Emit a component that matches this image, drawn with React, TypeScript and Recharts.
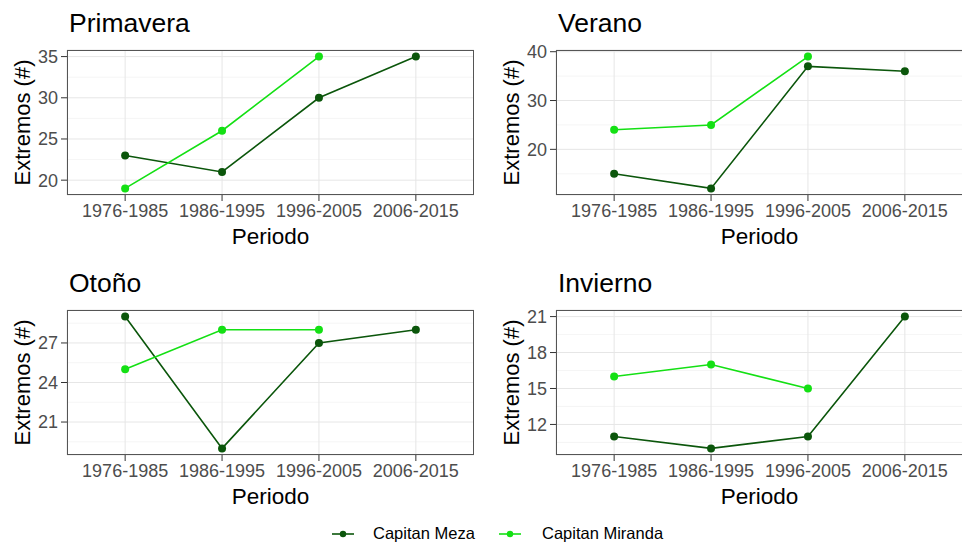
import { LineChart, Line, XAxis, YAxis, CartesianGrid } from 'recharts';

// periodos y conteo de extremos por estación
const periodos = ['1976-1985', '1986-1995', '1996-2005', '2006-2015'];

const primaveraMeza = [23, 21, 30, 35];
const primaveraMiranda = [19, 26, 35, null];
const veranoMeza = [15, 12, 37, 36];
const veranoMiranda = [24, 25, 39, null];
const otonoMeza = [29, 19, 27, 28];
const otonoMiranda = [25, 28, 28, null];
const inviernoMeza = [11, 10, 11, 21];
const inviernoMiranda = [16, 17, 15, null];

const primaveraTicks = [20, 25, 30, 35];
const veranoTicks = [20, 30, 40];
const otonoTicks = [21, 24, 27];
const inviernoTicks = [12, 15, 18, 21];

const MEZA = '#0b560b';
const MIRANDA = '#14e014';
const FONT = '"Liberation Sans", Arial, sans-serif';

const PLOT_W = 407;
const PLOT_H = 145;

interface PanelProps {
  title: string;
  meza: (number | null)[];
  miranda: (number | null)[];
  ticks: number[];
  minor: number[];
  domain: [number, number];
  left: number;
  top: number;
  axisW: number;
  labelOffset: number;
}

function Panel({ title, meza, miranda, ticks, minor, domain, left, top, axisW, labelOffset }: PanelProps) {
  const data = periodos.map((p, i) => ({ periodo: p, meza: meza[i], miranda: miranda[i] }));
  const pad = PLOT_W / 7;

  return (
    <div style={{ position: 'absolute', left, top, width: 481, height: 260 }}>
      <div
        style={{
          position: 'absolute',
          left: axisW + 2,
          top: 10,
          fontSize: 26.5,
          lineHeight: '27px',
          color: '#000',
          whiteSpace: 'nowrap',
        }}
      >
        {title}
      </div>
      <LineChart
        width={axisW + PLOT_W}
        height={260}
        data={data}
        margin={{ top: 50, right: 0, bottom: 0, left: 0 }}
        style={{ position: 'absolute', left: 0, top: 0 }}
      >
        <CartesianGrid
          vertical={false}
          horizontalValues={minor}
          stroke="#f1f1f1"
          strokeWidth={0.7}
        />
        <CartesianGrid stroke="#e6e6e6" strokeWidth={1} />
        <XAxis
          dataKey="periodo"
          height={65}
          padding={{ left: pad, right: pad }}
          axisLine={false}
          tickLine={{ stroke: '#333' }}
          tickSize={6}
          tickMargin={3}
          interval={0}
          tick={{ fontSize: 18, fill: '#4d4d4d', fontFamily: FONT }}
          label={{
            value: 'Periodo',
            position: 'insideBottom',
            offset: 16,
            style: { fontSize: 22.5, fill: '#000', fontFamily: FONT },
          }}
        />
        <YAxis
          type="number"
          width={axisW}
          domain={domain}
          ticks={ticks}
          allowDataOverflow
          interval={0}
          axisLine={false}
          tickLine={{ stroke: '#333' }}
          tickSize={6}
          tickMargin={3}
          tick={{ fontSize: 18, fill: '#4d4d4d', fontFamily: FONT }}
          label={{
            value: 'Extremos (#)',
            angle: -90,
            position: 'insideLeft',
            offset: labelOffset,
            style: { textAnchor: 'middle', fontSize: 22, fill: '#000', fontFamily: FONT },
          }}
        />
        <Line
          dataKey="meza"
          stroke={MEZA}
          strokeWidth={1.6}
          dot={{ r: 4, fill: MEZA, stroke: 'none' }}
          activeDot={false}
          isAnimationActive={false}
        />
        <Line
          dataKey="miranda"
          stroke={MIRANDA}
          strokeWidth={1.6}
          dot={{ r: 4, fill: MIRANDA, stroke: 'none' }}
          activeDot={false}
          isAnimationActive={false}
        />
      </LineChart>
      {/* borde del panel */}
      <div
        style={{
          position: 'absolute',
          left: axisW,
          top: 50,
          width: PLOT_W,
          height: PLOT_H,
          boxSizing: 'border-box',
          border: '1px solid #555',
          pointerEvents: 'none',
        }}
      />
    </div>
  );
}

function LegendKey({ color }: { color: string }) {
  return (
    <svg width={24} height={10} style={{ display: 'block' }}>
      <line x1={1} y1={5} x2={23} y2={5} stroke={color} strokeWidth={1.6} />
      <circle cx={12} cy={5} r={3.2} fill={color} />
    </svg>
  );
}

export default function App() {
  return (
    <div
      style={{
        position: 'absolute',
        left: 0,
        top: 0,
        width: 962,
        height: 542,
        overflow: 'hidden',
        background: '#fff',
        fontFamily: FONT,
      }}
    >
      <Panel title="Primavera" meza={primaveraMeza} miranda={primaveraMiranda} ticks={primaveraTicks}
        minor={[22.5, 27.5, 32.5]} domain={[18.2, 35.8]} left={0} top={0} axisW={67} labelOffset={22} />
      <Panel title="Verano" meza={veranoMeza} miranda={veranoMiranda} ticks={veranoTicks}
        minor={[15, 25, 35]} domain={[10.65, 40.35]} left={481} top={0} axisW={75} labelOffset={30} />
      <Panel title="Otoño" meza={otonoMeza} miranda={otonoMiranda} ticks={otonoTicks}
        minor={[19.5, 22.5, 25.5, 28.5]} domain={[18.5, 29.5]} left={0} top={260} axisW={67} labelOffset={22} />
      <Panel title="Invierno" meza={inviernoMeza} miranda={inviernoMiranda} ticks={inviernoTicks}
        minor={[10.5, 13.5, 16.5, 19.5]} domain={[9.45, 21.55]} left={481} top={260} axisW={75} labelOffset={30} />

      {/* leyenda */}
      <div style={{ position: 'absolute', left: 331, top: 529 }}>
        <LegendKey color={MEZA} />
      </div>
      <div style={{ position: 'absolute', left: 373, top: 524, fontSize: 16.5, lineHeight: '19px', color: '#000' }}>
        Capitan Meza
      </div>
      <div style={{ position: 'absolute', left: 498, top: 529 }}>
        <LegendKey color={MIRANDA} />
      </div>
      <div style={{ position: 'absolute', left: 542, top: 524, fontSize: 16.5, lineHeight: '19px', color: '#000' }}>
        Capitan Miranda
      </div>
    </div>
  );
}
